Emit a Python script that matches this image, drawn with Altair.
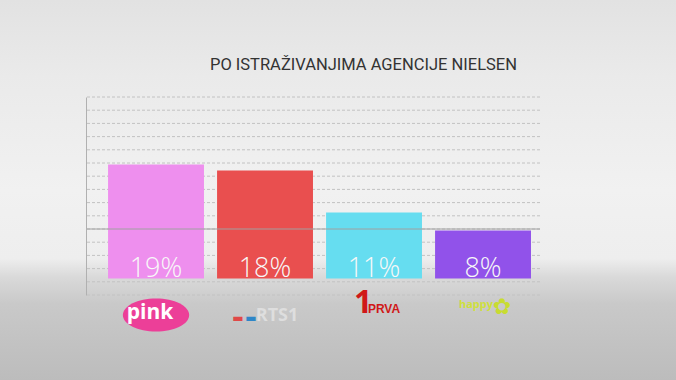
import altair as alt
import pandas as pd

# ---- data ----
channels = ["Pink", "RTS 1", "Prva", "Happy"]
shares = [19, 18, 11, 8]
share_labels = ["19%", "18%", "11%", "8%"]
bar_colors = ["#EE8FEE", "#E94F4F", "#66DDF0", "#9152EA"]
title_text = "PO ISTRAŽIVANJIMA AGENCIJE NIELSEN"
grid_values = [-2.75, -0.55, 1.65, 3.85, 6.05, 8.25, 10.45, 12.65, 14.85,
               17.05, 19.25, 21.45, 23.65, 25.85, 28.05, 30.25]
highlight_line = 8.25

df = pd.DataFrame({"channel": channels, "share": shares, "label": share_labels})
grid_df = pd.DataFrame({"g": grid_values})

xenc = alt.X("channel:N",
             scale=alt.Scale(domain=channels, paddingInner=0.12,
                             paddingOuter=0.1425, align=0.71),
             axis=None)
yscale = alt.Scale(domain=[-2.75, 30.25], nice=False, zero=False)

bg = alt.Chart(alt.Data(values=[{"a": 1}])).mark_rect(
    color=alt.LinearGradient(
        gradient="linear", x1=0, y1=0, x2=0, y2=1,
        stops=[
            alt.GradientStop(offset=0, color="#e2e2e2"),
            alt.GradientStop(offset=0.2, color="#eaeaea"),
            alt.GradientStop(offset=0.5, color="#f1f1f1"),
            alt.GradientStop(offset=0.68, color="#eeeeee"),
            alt.GradientStop(offset=0.73, color="#d9d9d9"),
            alt.GradientStop(offset=0.8, color="#c9c9c9"),
            alt.GradientStop(offset=1, color="#bcbcbc"),
        ],
    )
).encode(x=alt.value(-86), x2=alt.value(590), y=alt.value(-97), y2=alt.value(283))

grid = alt.Chart(grid_df).mark_rule(
    color="#c2c2c2", strokeWidth=1, strokeDash=[3, 2]
).encode(y=alt.Y("g:Q", scale=yscale,
                 axis=alt.Axis(grid=False, labels=False, ticks=False,
                               domain=True, domainColor="#b0b0b0",
                               title=None, zindex=1)))

bars = alt.Chart(df).mark_bar().encode(
    x=xenc,
    y=alt.Y("share:Q", scale=yscale),
    y2=alt.datum(0),
    color=alt.Color("channel:N", scale=alt.Scale(domain=channels, range=bar_colors),
                    legend=None),
)

rule = alt.Chart(alt.Data(values=[{"a": 1}])).mark_rule(
    color="#a0a0a0", strokeWidth=1
).encode(y=alt.datum(highlight_line))

labels = alt.Chart(df).mark_text(
    color="#f8f8f8", font="Open Sans", fontSize=27, fontWeight=300,
    baseline="alphabetic", dy=-2
).encode(x=xenc, y=alt.datum(0), text="label:N")

title = alt.Chart(alt.Data(values=[{"a": 1}])).mark_text(
    text=title_text, font="Roboto", fontSize=16.5,
    color="#333333", baseline="alphabetic", align="center"
).encode(x=alt.value(277.5), y=alt.value(-27))

# logos (approximated with text)
one = lambda ch: pd.DataFrame({"channel": [ch]})
ellipse = "M -1 0 A 1 0.5 0 1 0 1 0 A 1 0.5 0 1 0 -1 0 Z"
splash = alt.Chart(one("Pink")).mark_point(
    shape=ellipse, filled=True, color="#EC3F98", opacity=1, size=4400, dx=-6
).encode(x=xenc, y=alt.value(218))
pink_t = alt.Chart(one("Pink")).mark_text(
    text="pink", color="white", font="Open Sans", fontWeight="bold",
    fontSize=21, dx=-6, baseline="middle"
).encode(x=xenc, y=alt.value(216))

rts_r = alt.Chart(one("RTS 1")).mark_text(
    text="▬", color="#E04848", font="DejaVu Sans", fontSize=12, dx=-27
).encode(x=xenc, y=alt.value(221))
rts_b = alt.Chart(one("RTS 1")).mark_text(
    text="▬", color="#2E86C8", font="DejaVu Sans", fontSize=12, dx=-14
).encode(x=xenc, y=alt.value(221))
rts_t = alt.Chart(one("RTS 1")).mark_text(
    text="RTS1", color="#dedede", font="Open Sans", fontWeight="bold",
    fontSize=18, dx=12
).encode(x=xenc, y=alt.value(219))

prva_1 = alt.Chart(one("Prva")).mark_text(
    text="1", color="#D01818", font="Open Sans", fontWeight="bold",
    fontSize=32, dx=-11
).encode(x=xenc, y=alt.value(206))
prva_t = alt.Chart(one("Prva")).mark_text(
    text="PRVA", color="#D01818", font="Liberation Sans", fontWeight="bold",
    fontSize=12, dx=10
).encode(x=xenc, y=alt.value(212))

happy_t = alt.Chart(one("Happy")).mark_text(
    text="happy", color="#CFE03C", font="Open Sans", fontWeight="bold",
    fontSize=11, dx=-7
).encode(x=xenc, y=alt.value(208))
happy_f = alt.Chart(one("Happy")).mark_text(
    text="✿", color="#C8DC30", font="DejaVu Sans", fontSize=22, dx=19
).encode(x=xenc, y=alt.value(210))

chart = alt.layer(
    bg, grid, bars, rule, labels, title, splash, pink_t, rts_r, rts_b, rts_t,
    prva_1, prva_t, happy_t, happy_f
).properties(
    width=454, height=198,
    padding={"left": 86, "top": 97, "right": 136, "bottom": 85},
    autosize=alt.AutoSizeParams(type="none"),
).configure(background="#e6e6e6").configure_view(stroke=None)

chart.save("out.html", embed_options={"renderer": "svg", "actions": False})
